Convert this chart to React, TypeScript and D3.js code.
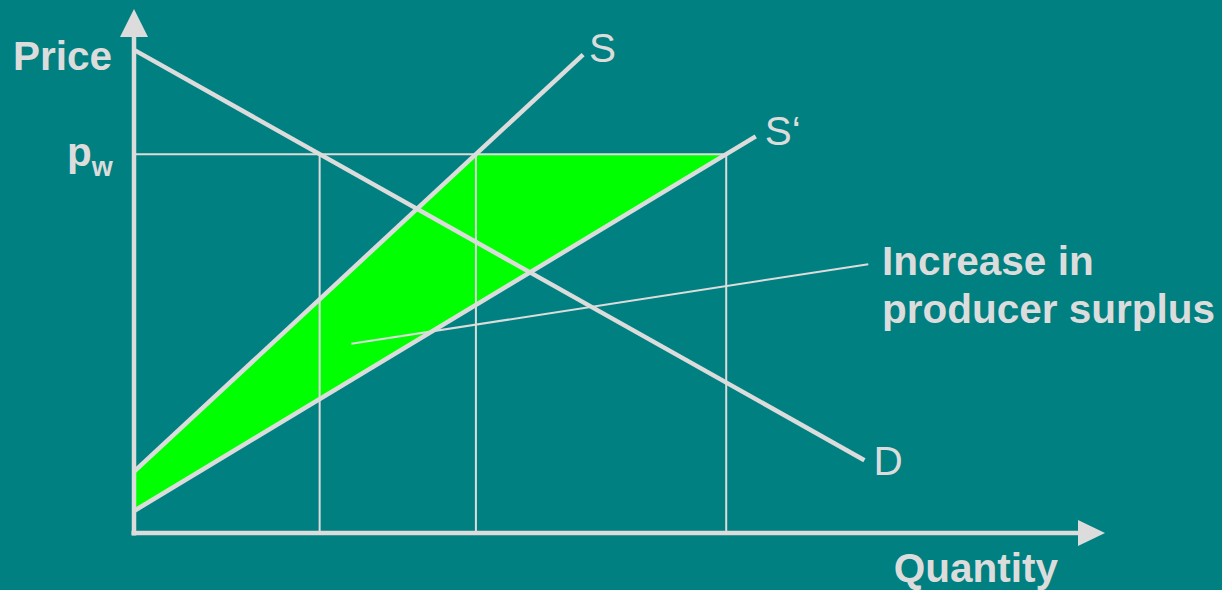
import React from "react";
import * as d3 from "d3";

// Economic units (quantity 0..10, price 0..10)
const worldPrice = 7.23;
const demandLine: [number, number][] = [[0, 9.22], [7.53, 1.39]];
const supplyLine: [number, number][] = [[0, 1.17], [4.63, 9.13]];
const supplyShiftedLine: [number, number][] = [[0, 0.42], [6.41, 7.57]];
const pointerLine: [number, number][] = [[2.24, 3.61], [7.57, 5.13]];
const curveLabels = ["S", "S‘", "D"];
const axisLabels = ["Price", "Quantity"];
const annotationLines = ["Increase in", "producer surplus"];

const W = 1222;
const H = 590;
const BG = "#008080";
const FG = "#dcdcdc";
const GREEN = "#00ff00";
const FONT = "'Liberation Sans', Arial, Helvetica, sans-serif";

const x = d3.scaleLinear().domain([0, 10]).range([134, 1104]);
const y = d3.scaleLinear().domain([0, 10]).range([533, 9]);

// quantity where a line reaches a given price
function qAt(line: [number, number][], p: number) {
  const [[q0, p0], [q1, p1]] = line;
  return q0 + ((p - p0) * (q1 - q0)) / (p1 - p0);
}

export default function App() {
  const lineGen = d3.line<[number, number]>().x((d) => x(d[0])).y((d) => y(d[1]));
  const qD = qAt(demandLine, worldPrice);
  const qS = qAt(supplyLine, worldPrice);
  const qS2 = qAt(supplyShiftedLine, worldPrice);
  const area: [number, number][] = [
    supplyLine[0],
    [qS, worldPrice],
    [qS2, worldPrice],
    supplyShiftedLine[0],
  ];
  const verticals = [qD, qS, qS2];
  const x0 = x(0);
  const y0 = y(0);
  const fs = 40.5;
  return (
    <svg width={W} height={H} style={{ position: "absolute", left: 0, top: 0, display: "block" }}>
      <rect width={W} height={H} fill={BG} />
      <path d={lineGen(area) + "Z"} fill={GREEN} />
      {/* thin guide lines */}
      <line x1={x0} x2={x(qS2)} y1={y(worldPrice)} y2={y(worldPrice)} stroke={FG} strokeWidth={2} />
      {verticals.map((q, i) => (
        <line key={i} x1={x(q)} x2={x(q)} y1={y(worldPrice)} y2={y0} stroke={FG} strokeWidth={2} />
      ))}
      <path d={lineGen(pointerLine) ?? ""} stroke={FG} strokeWidth={2} fill="none" />
      {/* curves */}
      {[demandLine, supplyLine, supplyShiftedLine].map((l, i) => (
        <path key={i} d={lineGen(l) ?? ""} stroke={FG} strokeWidth={4.5} fill="none" />
      ))}
      {/* axes */}
      <line x1={x0} x2={x0} y1={y0 + 2.5} y2={36} stroke={FG} strokeWidth={4.5} />
      <polygon points={`${x0},9 ${x0 - 14},37 ${x0 + 14},37`} fill={FG} />
      <line x1={x0 - 2.5} x2={1079} y1={y0} y2={y0} stroke={FG} strokeWidth={4.5} />
      <polygon points={`1105,${y0} 1078,${y0 - 13} 1078,${y0 + 13}`} fill={FG} />
      {/* labels */}
      <g fill={FG} fontFamily={FONT} fontSize={fs}>
        <text x={112} y={70} textAnchor="end" fontWeight="bold">{axisLabels[0]}</text>
        <text x={1058} y={582} textAnchor="end" fontWeight="bold">{axisLabels[1]}</text>
        <text x={67} y={166} fontWeight="bold">
          p<tspan fontSize={27} dy={10}>w</tspan>
        </text>
        <text x={x(supplyLine[1][0]) + 6} y={62}>{curveLabels[0]}</text>
        <text x={x(supplyShiftedLine[1][0]) + 9} y={145}>{curveLabels[1]}</text>
        <text x={x(demandLine[1][0]) + 9} y={475}>{curveLabels[2]}</text>
        <text x={882} y={275} fontWeight="bold">{annotationLines[0]}</text>
        <text x={882} y={323} fontWeight="bold">{annotationLines[1]}</text>
      </g>
    </svg>
  );
}
